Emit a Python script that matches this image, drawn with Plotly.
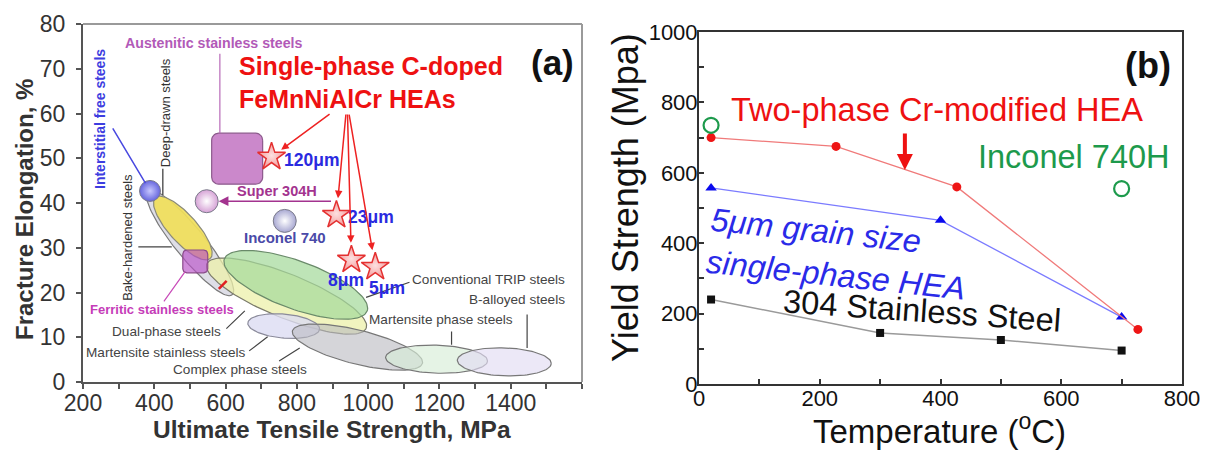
import numpy as np
import plotly.graph_objects as go

# ---------------- Panel (a) data ----------------
region_names = ["Bake-hardened steels", "Deep-drawn steels", "Dual-phase steels",
                "Conventional TRIP steels", "Martensite stainless steels",
                "Complex phase steels", "Martensite phase steels", "B-alloyed steels"]
region_uts = [500, 480, 771, 797, 763, 970, 1192, 1382]      # MPa (centre)
region_el = [31.1, 34.4, 19.2, 21.7, 12.5, 7.8, 5.1, 4.5]   # % (centre)

box_names = ["Austenitic stainless steels", "Ferritic stainless steels"]
box_uts_lo = [561, 480]
box_uts_hi = [704, 550]
box_el_lo = [44.2, 24.4]
box_el_hi = [55.6, 29.5]

point_names = ["Interstitial free steels", "Super 304H", "Inconel 740"]
point_uts = [388, 547, 766]
point_el = [42.7, 40.4, 36.0]

hea_labels = ["120μm", "23μm", "8μm", "5μm"]
hea_uts = [729, 911, 953, 1020]
hea_el = [50.3, 37.3, 27.3, 25.7]

red_seg_uts = [581, 603]
red_seg_el = [20.8, 22.6]

# ---------------- Panel (b) data ----------------
temp_two_phase = [20, 227, 427, 727]
ys_two_phase = [700, 675, 560, 155]
temp_single = [20, 400, 700]
ys_single = [557, 465, 190]
temp_304 = [20, 300, 500, 700]
ys_304 = [240, 145, 125, 95]
temp_inconel = [20, 700]
ys_inconel = [735, 555]

# ---------------- geometry / styles ----------------
W, H = 1207, 450
A_X0, A_X1, A_Y0, A_Y1 = 83, 582, 24, 382      # pixel box of panel (a)
B_X0, B_X1, B_Y0, B_Y1 = 699, 1182, 32, 384     # pixel box of panel (b)
X_PX = (A_X1 - A_X0) / 1400.0
Y_PX = (A_Y1 - A_Y0) / 80.0

region_style = [
    dict(a=67, b=15, ang=51, fill="rgba(205,205,218,0.65)", line="#7a7a7a"),
    dict(a=41, b=14, ang=48, fill="rgba(240,222,90,0.92)", line="#8a8a7a"),
    dict(a=86, b=22, ang=22, fill="rgba(236,240,170,0.75)", line="#7a7a6a"),
    dict(a=76, b=24, ang=20, fill="rgba(165,218,155,0.72)", line="#6a8a6a"),
    dict(a=36, b=12, ang=5, fill="rgba(220,220,242,0.8)", line="#8a8a9a"),
    dict(a=67, b=17, ang=14, fill="rgba(185,185,192,0.6)", line="#777777"),
    dict(a=51, b=14, ang=2, fill="rgba(215,236,215,0.65)", line="#777777"),
    dict(a=47, b=14, ang=2, fill="rgba(226,220,242,0.65)", line="#777777"),
]
box_style = [
    dict(r=7, fill="rgba(200,130,200,0.95)", line="#8c5a8c"),
    dict(r=4, fill="rgba(185,80,200,0.65)", line="#8a4a8a"),
]
point_style = [
    dict(color="#6565dd", grad="#c8c8ff", size=21),
    dict(color="#d6a2d6", grad="#ffffff", size=23),
    dict(color="#a8a8d2", grad="#ffffff", size=23),
]


def ellipse(cx, cy, a, b, ang):
    t = np.linspace(0, 2 * np.pi, 120)
    th = np.deg2rad(ang)
    u, v = a * np.cos(t), b * np.sin(t)
    dx = u * np.cos(th) - v * np.sin(th)
    dy = u * np.sin(th) + v * np.cos(th)  # screen-down positive
    return cx + dx / X_PX, cy - dy / Y_PX


def rounded_box(x0, x1, y0, y1, r):
    w = (x1 - x0) * X_PX
    h = (y1 - y0) * Y_PX
    pts = []
    for cxp, cyp, st in [(w - r, h - r, 0), (r, h - r, 90), (r, r, 180), (w - r, r, 270)]:
        for a in np.deg2rad(np.linspace(st, st + 90, 8)):
            pts.append((cxp + r * np.cos(a), cyp + r * np.sin(a)))
    pts.append(pts[0])
    xs = [x0 + p[0] / X_PX for p in pts]
    ys = [y0 + p[1] / Y_PX for p in pts]
    return xs, ys


fig = go.Figure()

# ellipses (property regions)
for i, name in enumerate(region_names):
    s = region_style[i]
    ex, ey = ellipse(region_uts[i], region_el[i], s["a"], s["b"], s["ang"])
    fig.add_trace(go.Scatter(x=ex, y=ey, mode="lines", fill="toself", fillcolor=s["fill"],
                             line=dict(color=s["line"], width=1.2), hoverinfo="skip",
                             showlegend=False, xaxis="x", yaxis="y", name=name))

# rounded boxes
for i, name in enumerate(box_names):
    s = box_style[i]
    bx, by = rounded_box(box_uts_lo[i], box_uts_hi[i], box_el_lo[i], box_el_hi[i], s["r"])
    fig.add_trace(go.Scatter(x=bx, y=by, mode="lines", fill="toself", fillcolor=s["fill"],
                             line=dict(color=s["line"], width=1.2), hoverinfo="skip",
                             showlegend=False, xaxis="x", yaxis="y", name=name))

# short red segment
fig.add_trace(go.Scatter(x=red_seg_uts, y=red_seg_el, mode="lines",
                         line=dict(color="#e02020", width=2.5), hoverinfo="skip",
                         showlegend=False, xaxis="x", yaxis="y"))

# circles
for i, name in enumerate(point_names):
    s = point_style[i]
    fig.add_trace(go.Scatter(x=[point_uts[i]], y=[point_el[i]], mode="markers",
                             marker=dict(size=s["size"], color=s["color"],
                                         gradient=dict(type="radial", color=s["grad"]),
                                         line=dict(color="#7a7a8a", width=1)),
                             hoverinfo="skip", showlegend=False, xaxis="x", yaxis="y", name=name))

# HEA stars
fig.add_trace(go.Scatter(x=hea_uts, y=hea_el, mode="markers",
                         marker=dict(symbol="star", size=21, color="#f39a9a",
                                     gradient=dict(type="radial", color="#fde0e0"),
                                     line=dict(color="#e43030", width=1.5)),
                         hoverinfo="skip", showlegend=False, xaxis="x", yaxis="y"))

# ---------------- Panel (b) traces ----------------
fig.add_trace(go.Scatter(x=temp_304, y=ys_304, mode="lines+markers",
                         line=dict(color="#9a9a9a", width=1.5),
                         marker=dict(symbol="square", size=8, color="#111111"),
                         hoverinfo="skip", showlegend=False, xaxis="x2", yaxis="y2"))
fig.add_trace(go.Scatter(x=temp_single, y=ys_single, mode="lines+markers",
                         line=dict(color="#7b7bff", width=1.3),
                         marker=dict(symbol="triangle-up", size=10, color="#0a0aee"),
                         hoverinfo="skip", showlegend=False, xaxis="x2", yaxis="y2"))
fig.add_trace(go.Scatter(x=temp_two_phase, y=ys_two_phase, mode="lines+markers",
                         line=dict(color="#f07a7a", width=1.3),
                         marker=dict(symbol="circle", size=9, color="#ee1515"),
                         hoverinfo="skip", showlegend=False, xaxis="x2", yaxis="y2"))
fig.add_trace(go.Scatter(x=temp_inconel, y=ys_inconel, mode="markers",
                         marker=dict(symbol="circle-open", size=15, color="#1d9a4c",
                                     line=dict(width=2.2)),
                         hoverinfo="skip", showlegend=False, xaxis="x2", yaxis="y2"))

FONT = "Liberation Sans, Arial, sans-serif"
ann = []


def txt(x, y, text, size, color, ref="", bold=False, angle=0, xanchor="center",
        align="center", italic=False):
    ann.append(dict(x=x, y=y, xref="x" + ref, yref="y" + ref, text=text, showarrow=False,
                    textangle=angle, xanchor=xanchor, yanchor="middle", align=align,
                    font=dict(family=FONT, size=size, color=color,
                              weight="bold" if bold else "normal",
                              style="italic" if italic else "normal")))


def leader(x0, y0, x1, y1, color, width=1.2, head=0, ref="", standoff=0, size=1):
    ann.append(dict(x=x1, y=y1, ax=x0, ay=y0, xref="x" + ref, yref="y" + ref,
                    axref="x" + ref, ayref="y" + ref, text="", showarrow=True,
                    arrowhead=head, arrowwidth=width, arrowcolor=color, arrowsize=size,
                    standoff=standoff))


GS = 13.6  # grey label size
# Panel (a) labels
txt(567, 75.8, "Austenitic stainless steels", 14.2, "#b25ab8", bold=True)
leader(584, 73.7, 584, 55.6, "#b86ab8", 1.2)
txt(248, 58.8, "Interstitial free steels", 14, "#3d3de0", bold=True, angle=-90)
leader(281, 57.0, point_uts[0], point_el[0], "#4848e0", 1.5, standoff=9)
txt(430, 60.3, "Deep-drawn steels", 13, "#333333", angle=-90)
leader(424, 48.0, 424, 41.8, "#333333", 1.2)
txt(323, 32.4, "Bake-hardened steels", 13, "#333333", angle=-90)
leader(351, 30.2, 449, 30.2, "#444444", 1.2)
txt(421, 16.1, "Ferritic stainless steels", 13, "#c53cb8", bold=True)
leader(424, 17.7, 486, 24.6, "#c84ab8", 1.2)
txt(435, 11.2, "Dual-phase steels", GS, "#444444")
leader(598, 11.6, 654, 15.9, "#444444", 1.2)
txt(432, 6.5, "Martensite stainless steels", GS, "#444444")
leader(662, 6.7, 718, 10.1, "#444444", 1.2)
txt(640, 2.9, "Complex phase steels", GS, "#444444")
leader(746, 4.5, 808, 7.6, "#444444", 1.2)
txt(1337, 22.8, "Conventional TRIP steels", GS, "#444444")
leader(990, 18.8, 1116, 22.3, "#444444", 1.2)
txt(1418, 18.5, "B-alloyed steels", GS, "#444444")
leader(1446, 15.4, 1446, 7.6, "#444444", 1.2)
txt(1203, 13.9, "Martensite phase steels", GS, "#444444")
leader(1234, 11.6, 1234, 8.3, "#444444", 1.2)
txt(766, 32.2, "Inconel 740", 15, "#4a4aa8", bold=True)
txt(743, 42.6, "Super 304H", 14.5, "#a3338f", bold=True)
leader(900, 40.4, point_uts[1], point_el[1], "#a3338f", 1.5, head=2, standoff=12, size=1.3)

for lbl, lx, ly in zip(hea_labels, [757, 939, 883, 998], [49.6, 36.9, 22.8, 21.0]):
    txt(lx, ly, lbl, 17.5, "#2a2ae0", bold=True, xanchor="left")

txt(631, 67.0, "Single-phase C-doped<br>FeMnNiAlCr HEAs", 25, "#ee1111", bold=True,
    xanchor="left", align="left")
leader(896, 60.1, hea_uts[0], hea_el[0], "#ee2222", 1.5, head=2, standoff=12)
for k in range(1, 4):
    leader(938 + 4 * (k - 1), 60.1, hea_uts[k], hea_el[k], "#ee2222", 1.5, head=2, standoff=17)
txt(1517, 71.5, "(a)", 35, "#111111", bold=True)

# Panel (b) labels
txt(744, 906, "(b)", 36, "#111111", ref="2", bold=True)
txt(395, 778, "Two-phase Cr-modified HEA", 32.5, "#ee1111", ref="2")
txt(621, 645, "Inconel 740H", 32.5, "#1d9a4c", ref="2")
txt(230, 369, "5μm grain size<br>single-phase HEA", 32.5, "#2a2ae8", ref="2", angle=6,
    align="left", italic=True)
txt(370, 207, "304 Stainless Steel", 32.5, "#111111", ref="2", angle=4)
leader(341, 716, 341, 608, "#ee1111", 4, head=2, ref="2", size=0.8)

# axis titles (paper)
def ptxt(px, py, text, size, bold=False, angle=0, color="#222222"):
    ann.append(dict(x=px / W, y=1 - py / H, xref="paper", yref="paper", text=text,
                    showarrow=False, textangle=angle, xanchor="center", yanchor="middle",
                    font=dict(family=FONT, size=size, color=color,
                              weight="bold" if bold else "normal")))


ptxt(24, 210, "Fracture Elongation, %", 24, bold=True, angle=-90, color="#333333")
ptxt(332, 429, "Ultimate Tensile Strength, MPa", 24.5, bold=True, color="#333333")
ptxt(626, 198, "Yield Strength (Mpa)", 36, angle=-90, color="#111111")
ptxt(939, 429, "Temperature (<sup>o</sup>C)", 33, color="#111111")

shapes = [
    dict(type="line", xref="x domain", yref="y domain", x0=0, x1=1, y0=1, y1=1,
         line=dict(color="#9a9a9a", width=2)),
    dict(type="line", xref="x domain", yref="y domain", x0=1, x1=1, y0=0, y1=1,
         line=dict(color="#9a9a9a", width=2)),
]

fig.update_layout(
    width=W, height=H, margin=dict(l=0, r=0, t=0, b=0, autoexpand=False),
    paper_bgcolor="white", plot_bgcolor="white",
    font=dict(family=FONT),
    annotations=ann, shapes=shapes,
    xaxis=dict(domain=[A_X0 / W, A_X1 / W], range=[200, 1600], tickmode="array",
               tickvals=[200, 400, 600, 800, 1000, 1200, 1400],
               ticks="outside", ticklen=5, tickwidth=1.5, tickcolor="#555",
               minor=dict(tickmode="linear", tick0=200, dtick=100, ticks="outside",
                          ticklen=5, tickwidth=1.5, tickcolor="#555"),
               showline=True, linecolor="#555", linewidth=2, showgrid=False,
               zeroline=False, tickfont=dict(size=23, color="#333"), anchor="y",
               ticklabelstandoff=-6, automargin=False),
    yaxis=dict(domain=[1 - A_Y1 / H, 1 - A_Y0 / H], range=[0, 80], dtick=10,
               ticks="outside", ticklen=5, tickwidth=1.5, tickcolor="#555",
               showline=True, linecolor="#555", linewidth=2, showgrid=False,
               zeroline=False, tickfont=dict(size=23, color="#333"), anchor="x",
               ticklabelstandoff=6, automargin=False),
    xaxis2=dict(domain=[B_X0 / W, B_X1 / W], range=[0, 800], dtick=200, tick0=0,
                ticks="inside", ticklen=5, tickwidth=1.5, tickcolor="#333",
                minor=dict(dtick=100, ticks="inside", ticklen=5, tickwidth=1.5,
                           tickcolor="#333"),
                showline=True, mirror=True, linecolor="#333", linewidth=2, showgrid=False,
                zeroline=False, tickfont=dict(size=22, color="#111"), anchor="y2",
                ticklabelstandoff=-6, automargin=False),
    yaxis2=dict(domain=[1 - B_Y1 / H, 1 - B_Y0 / H], range=[0, 1000], dtick=200, tick0=0,
                ticks="inside", ticklen=5, tickwidth=1.5, tickcolor="#333",
                minor=dict(dtick=100, ticks="inside", ticklen=5, tickwidth=1.5,
                           tickcolor="#333"),
                showline=True, mirror=True, linecolor="#333", linewidth=2, showgrid=False,
                zeroline=False, tickfont=dict(size=22, color="#111"), anchor="x2",
                ticklabelstandoff=-5, automargin=False),
)

fig.write_html("out.html")
